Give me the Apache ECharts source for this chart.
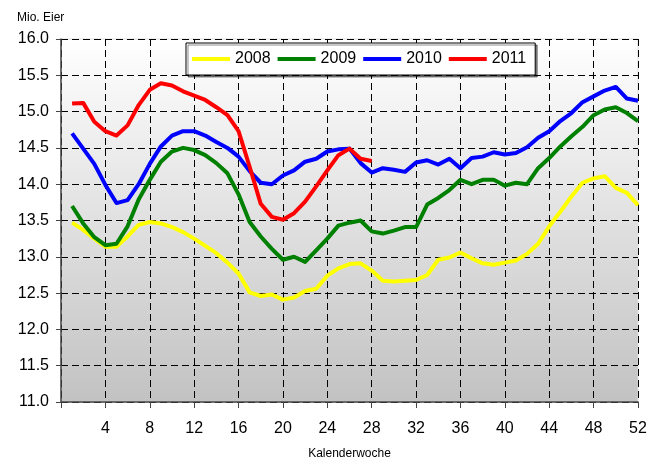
<!DOCTYPE html>
<html>
<head>
<meta charset="utf-8">
<script src="https://cdn.jsdelivr.net/npm/echarts@6/dist/echarts.min.js"></script>
<style>html,body{margin:0;padding:0;background:#fff}#c{width:651px;height:466px}</style>
</head>
<body>
<div id="c"></div>
<script>
const weeks = Array.from({length: 52}, (_, i) => i + 1);
const seriesNames = ['2008', '2009', '2010', '2011'];
const y2008 = [13.47,13.37,13.25,13.14,13.14,13.28,13.44,13.48,13.46,13.41,
  13.34,13.25,13.15,13.05,12.92,12.77,12.51,12.46,12.48,12.41,
  12.44,12.53,12.56,12.74,12.84,12.90,12.91,12.81,12.67,12.66,
  12.67,12.68,12.75,12.96,12.99,13.06,12.98,12.91,12.89,12.92,
  12.95,13.04,13.18,13.42,13.62,13.83,14.02,14.08,14.11,13.95,
  13.88,13.71];
const y2009 = [13.70,13.46,13.27,13.16,13.18,13.42,13.79,14.06,14.31,14.45,
  14.50,14.47,14.40,14.29,14.15,13.86,13.48,13.28,13.11,12.96,
  13.00,12.93,13.09,13.25,13.43,13.47,13.50,13.35,13.32,13.36,
  13.41,13.41,13.72,13.81,13.92,14.06,14.00,14.06,14.06,13.98,
  14.02,14.00,14.22,14.36,14.52,14.66,14.79,14.95,15.03,15.06,
  14.98,14.87];
const y2010 = [14.70,14.49,14.28,13.99,13.74,13.78,14.00,14.28,14.52,14.67,
  14.73,14.73,14.67,14.58,14.50,14.38,14.18,14.02,14.00,14.12,
  14.19,14.31,14.35,14.45,14.48,14.49,14.29,14.16,14.22,14.20,
  14.17,14.30,14.33,14.27,14.35,14.22,14.36,14.38,14.44,14.41,
  14.43,14.51,14.64,14.73,14.87,14.98,15.13,15.21,15.29,15.34,
  15.18,15.15];
const y2011 = [15.11,15.12,14.86,14.73,14.67,14.81,15.09,15.30,15.39,15.36,
  15.28,15.22,15.16,15.06,14.95,14.73,14.24,13.73,13.55,13.51,
  13.60,13.76,13.97,14.19,14.40,14.49,14.35,14.32];
const yTickMin = 11, yTickMax = 16, yTickStep = 0.5;
const xTickMin = 0, xTickMax = 52, xTickStep = 4;

const colors = ['#ffff00', '#008000', '#0000ff', '#ff0000'];
const allData = [y2008, y2009, y2010, y2011];

const chart = echarts.init(document.getElementById('c'));
const font = '"Liberation Sans", Arial, sans-serif';
chart.setOption({
  animation: false,
  backgroundColor: '#ffffff',
  title: {
    text: 'Mio. Eier', left: 12, top: 7,
    textStyle: {fontSize: 12, fontWeight: 'normal', color: '#000', fontFamily: font}
  },
  legend: {
    left: 186, top: 43,
    padding: [8, 9, 8, 6],
    itemGap: 7, itemWidth: 38, itemHeight: 4,
    icon: 'rect',
    backgroundColor: '#fff', borderColor: '#000', borderWidth: 1,
    shadowColor: 'rgba(0,0,0,0.45)', shadowOffsetX: 2, shadowOffsetY: 2, shadowBlur: 0,
    textStyle: {fontSize: 16, color: '#000', fontFamily: font},
    data: seriesNames
  },
  grid: {
    left: 61, right: 13, top: 39, bottom: 64,
    show: true,
    borderColor: '#dddddd', borderWidth: 1,
    backgroundColor: new echarts.graphic.LinearGradient(0, 0, 0, 1, [
      {offset: 0, color: '#ffffff'}, {offset: 1, color: '#c2c2c2'}
    ])
  },
  xAxis: {
    type: 'value', min: xTickMin, max: xTickMax, interval: xTickStep,
    name: 'Kalenderwoche', nameLocation: 'middle', nameGap: 46,
    nameTextStyle: {fontSize: 12, color: '#000', fontFamily: font},
    axisLine: {lineStyle: {color: '#444', width: 1.5}},
    axisTick: {show: true, inside: false, length: 6, lineStyle: {color: '#444'}},
    axisLabel: {fontSize: 16, color: '#000', margin: 19, fontFamily: font,
      formatter: v => v === 0 ? '' : String(v)},
    splitLine: {show: true, lineStyle: {color: '#000', type: [7, 4], width: 1}}
  },
  yAxis: {
    type: 'value', min: yTickMin, max: yTickMax, interval: yTickStep,
    axisLine: {show: true, lineStyle: {color: '#444', width: 1.5}},
    axisTick: {show: true, inside: false, length: 5, lineStyle: {color: '#444'}},
    axisLabel: {fontSize: 16, color: '#000', margin: 12, fontFamily: font,
      formatter: v => v.toFixed(1)},
    splitLine: {show: true, lineStyle: {color: '#000', type: [7, 4], width: 1}}
  },
  series: seriesNames.map((n, i) => ({
    name: n, type: 'line',
    data: allData[i].map((v, j) => [weeks[j], v]),
    showSymbol: false, symbol: 'none',
    color: colors[i],
    lineStyle: {width: 4, color: colors[i], join: 'round'},
    z: 2 + i
  }))
});
</script>
</body>
</html>
